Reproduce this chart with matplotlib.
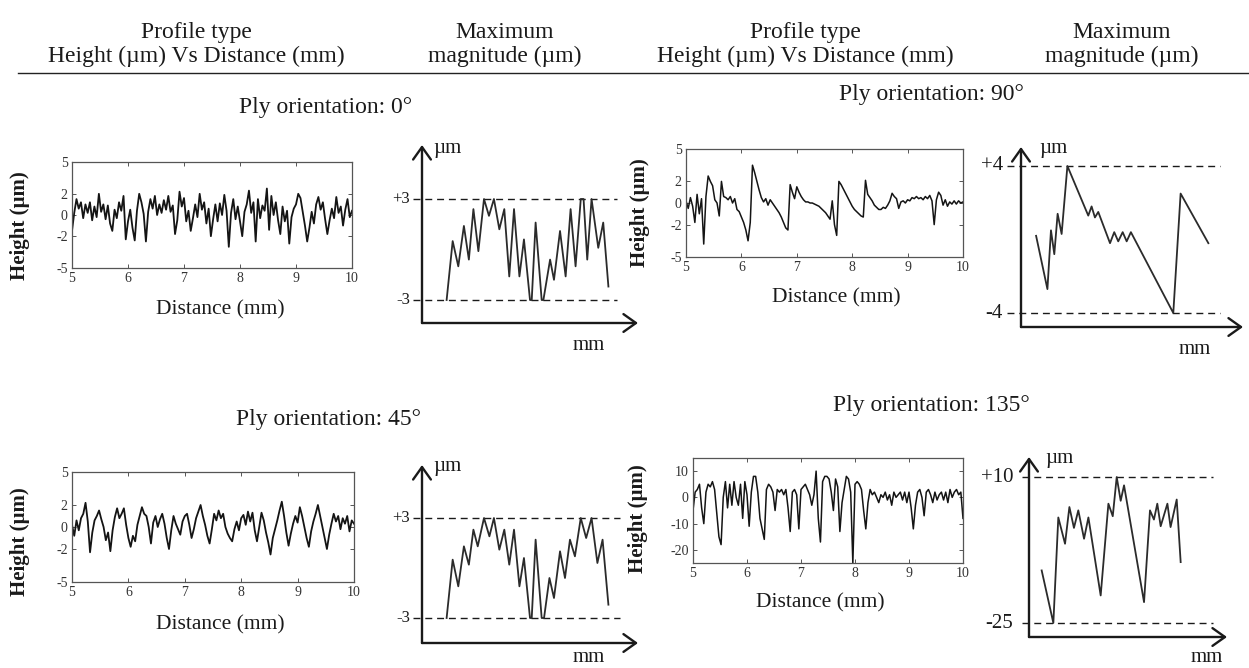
import matplotlib.pyplot as plt
import numpy as np

plt.rcParams['font.family'] = ['Liberation Serif', 'DejaVu Serif']
plt.rcParams['axes.unicode_minus'] = False

W, H = 1249, 668
INK = '#1a1a1a'

# Surface height profiles (µm), one sample every 0.04 mm from 5 to 10 mm
height_0 = [
    -1.5, 0.2, 1.5, 0.6, 1.2, -0.3, 1.0, 0.2, 1.2, -0.5, 0.8, -0.2, 2.0, 0.3, 1.0, -0.4,
    0.9, -0.8, -1.5, 0.5, -0.3, 1.2, 0.4, 1.8, -2.3, -0.6, 0.5, -1.2, -2.4, 0.4, 2.0, 1.2,
    0.1, -2.5, 0.3, 1.5, 0.6, 1.8, 0.0, 1.0, 0.2, 1.4, 0.5, 1.8, 0.3, 0.9, -1.8, -0.5,
    2.2, 0.8, 1.6, -0.6, 0.4, -1.5, -0.3, 1.0, -0.2, 2.0, 0.5, 1.2, -0.8, 0.6, -2.0, -0.4,
    1.0, -0.6, 1.1, 0.0, 1.9, 0.4, -3.0, 0.2, 1.5, -0.4, 0.8, -0.6, -2.0, 0.3, 1.0, 2.3,
    0.2, 1.2, -2.5, 1.5, -0.3, 0.9, 0.4, 2.5, -1.4, 1.8, 0.0, 1.2, -0.5, -1.8, 0.8, -0.6,
    0.4, -2.7, -0.2, 0.6, 1.0, 2.0, 1.6, 0.3, -1.0, -2.5, -1.2, 0.3, -0.8, 1.0, 1.7, 0.5,
    1.2, -0.4, -1.8, -0.5, 0.6, -0.3, 1.7, 0.2, 0.8, -1.0, 0.5, 1.5, -0.2, 0.4,
]
height_45 = [
    0.2, -0.8, 0.6, -0.3, 0.8, 1.2, 2.2, 0.5, -2.3, -0.5, 0.6, 1.0, 1.5, 0.7, 0.0, -1.2,
    -0.5, -2.2, -0.3, 0.9, 1.7, 0.8, 1.2, 1.7, 0.2, -1.0, -1.8, -0.8, -1.3, 0.2, 1.0, 1.8,
    1.2, 1.0, 0.0, -1.5, 0.4, 1.0, 0.0, 0.7, 1.2, 0.3, -1.0, -2.0, -0.3, 1.0, 0.3, -0.2,
    -0.7, 0.5, 1.0, 1.2, 0.2, -1.0, -0.2, 0.8, 1.4, 2.0, 1.0, 0.2, -0.8, -1.5, -0.2, 1.2,
    0.6, 1.5, 0.8, 1.2, 0.0, -0.6, -1.0, -1.3, -0.2, 0.5, -0.3, 0.8, 1.1, 0.2, 1.4, 0.5,
    1.3, -0.3, -1.3, 0.0, 1.3, 0.6, -0.5, -1.4, -2.5, -1.0, -0.2, 0.6, 1.5, 2.3, 1.0, -0.5,
    -1.7, -0.6, 0.3, 1.0, 0.4, 1.8, 1.0, 0.0, -1.0, -1.8, -0.4, 0.5, 1.2, 2.0, 1.0, 0.0,
    -1.0, -2.0, -0.7, 0.3, 1.2, 0.5, 1.0, -0.2, 0.8, 0.3, 1.0, -0.4, 0.6, 0.3,
]
height_90 = [
    0.2, -0.5, 0.5, -0.3, -1.8, 0.8, -1.0, 0.4, -3.8, 0.6, 2.5, 2.0, 1.6, 0.3, 0.0, -1.2,
    2.0, 0.6, 0.5, 0.3, 0.6, 0.0, 0.4, -0.6, -0.8, -1.3, -1.8, -2.5, -3.5, -1.8, 3.5, 2.8,
    2.0, 1.2, 0.5, 0.1, 0.4, -0.2, 0.3, 0.0, -0.3, -0.6, -0.9, -1.3, -1.8, -2.3, -2.5, 1.7,
    1.0, 0.4, 1.5, 1.0, 0.6, 0.3, 0.1, 0.1, 0.0, 0.0, -0.1, -0.2, -0.3, -0.5, -0.7, -0.9,
    -1.2, -1.5, 0.2, -2.0, -3.0, 2.0, 1.7, 1.3, 0.9, 0.5, 0.1, -0.3, -0.6, -0.8, -1.0, -1.2,
    -1.3, 2.1, 0.8, 0.5, 0.2, -0.2, -0.4, -0.6, -0.6, -0.4, -0.5, -0.2, 0.2, 0.9, 0.6, 0.4,
    -0.5, 0.1, 0.2, 0.0, 0.3, 0.2, 0.5, 0.4, 0.6, 0.4, 0.5, 0.3, 0.6, 0.4, 0.7, 0.2,
    -2.0, 0.3, 1.0, 0.7, -0.2, 0.3, -0.3, 0.1, -0.1, 0.2, -0.1, 0.2, 0.0, 0.1,
]
height_135 = [
    -5, 2, 3, 5, -4, -10, 2, 5, 4, 6, 3, -6, -15, -18, 0, 6,
    -4, 5, -3, 6, 0, -3, 5, -8, 6, 1, -11, 2, 8, 8, 2, -8,
    -12, -16, 3, 5, 4, 2, -5, 3, 2, 3, 1, 3, -4, -13, 2, 3,
    1, -12, 3, 4, 5, 3, 1, -3, 1, 10, -8, -17, 6, 8, 8, 7,
    2, -5, 7, 4, -13, -2, 3, 8, 7, 2, -25, 5, 6, 5, 3, -5,
    -12, -2, 3, 1, 2, 0, -2, 1, 0, 2, -1, 1, -3, 2, 0, 1,
    2, -1, 2, -2, 2, -4, -12, -3, 2, 3, 0, -7, 2, 3, 1, -2,
    2, -1, 1, 2, -1, 2, -2, 3, 0, 2, 3, 1, 2, -8,
]

# Maximum-magnitude envelopes: position along trace (arb. units) and height (µm)
env_pos_0 = [11.4, 14.2, 16.8, 19.4, 21.7, 23.8, 26.1, 28.7, 31.0, 33.3, 35.8, 38.1,
             40.4, 42.6, 45.1, 47.2, 50.0, 50.8, 52.6, 55.4, 56.2, 59.3, 61.1, 63.9,
             66.5, 68.8, 71.1, 73.5, 74.8, 76.5, 78.5, 81.6, 83.9, 86.3]
env_val_0 = [-3.0, 0.5, -1.0, 1.4, -0.6, 2.4, -0.1, 3.0, 2.0, 3.0, 1.2, 2.4,
             -1.6, 2.4, -1.6, 0.6, -3.0, -3.0, 1.6, -3.0, -3.0, -0.6, -1.8, 1.1,
             -1.6, 2.4, -1.0, 3.0, 3.0, -0.6, 3.0, 0.1, 1.6, -2.2]
env_pos_45 = [11.4, 14.2, 16.8, 19.4, 21.7, 23.8, 25.8, 28.7, 31.2, 33.3, 35.8, 38.1,
              40.4, 42.6, 45.1, 47.2, 50.0, 50.8, 52.6, 55.4, 56.5, 59.0, 61.1, 63.9,
              66.2, 68.5, 70.8, 73.5, 76.0, 78.5, 81.2, 83.6, 86.3]
env_val_45 = [-3.0, 0.5, -1.1, 1.3, 0.2, 2.3, 1.3, 3.0, 1.9, 3.0, 1.1, 2.3,
              0.2, 2.3, -1.1, 0.6, -3.0, -3.0, 1.7, -3.0, -3.0, -0.6, -1.8, 1.0,
              -0.6, 1.7, 0.7, 3.0, 1.8, 3.0, 0.3, 1.7, -2.2]
env_pos_90 = [6.8, 11.9, 13.5, 15.0, 16.5, 18.3, 20.9, 30.3, 31.8, 33.3, 34.8, 40.1,
              42.0, 43.8, 45.8, 47.6, 49.5, 68.6, 71.9, 84.4]
env_val_90 = [0.2, -2.7, 0.5, -0.8, 1.4, 0.3, 4.0, 1.3, 1.8, 1.2, 1.5, -0.2,
              0.4, -0.1, 0.4, -0.1, 0.4, -4.0, 2.5, -0.2]
env_pos_135 = [6.4, 12.3, 14.8, 18.2, 20.4, 22.7, 24.9, 27.8, 30.0, 36.2, 40.1, 42.3,
               44.3, 46.3, 48.0, 58.1, 61.1, 63.1, 64.8, 66.5, 69.9, 71.5, 74.6, 76.6]
env_val_135 = [-12.4, -25.0, 0.3, -6.0, 2.8, -2.2, 2.0, -4.8, 0.3, -18.4, 3.6, 0.6,
               10.0, 4.3, 8.0, -20.0, 2.0, -0.2, 3.6, -1.8, 3.6, -2.0, 4.6, -10.4]

fig = plt.figure(figsize=(W / 100, H / 100), dpi=100)


def px_axes(left, top, right, bottom):
    return fig.add_axes([left / W, 1 - bottom / H, (right - left) / W, (bottom - top) / H])


def ftext(x, y, s, **kw):
    kw.setdefault('color', INK)
    fig.text(x / W, 1 - y / H, s, **kw)


def profile_panel(box, heights, ylim, yticks, xlab_xy, ylab_xy, lw=1.3):
    ax = px_axes(*box)
    dist = np.linspace(5, 10, len(heights))
    ax.plot(dist, heights, color='#141414', lw=lw)
    ax.set_xlim(5, 10)
    ax.set_ylim(*ylim)
    ax.set_xticks(range(5, 11))
    ax.set_yticks(yticks)
    ax.tick_params(direction='in', top=True, right=True, length=3, width=0.7,
                   labelsize=10, labelcolor='#333', pad=3, color='#555')
    for sp in ax.spines.values():
        sp.set_color('#555')
        sp.set_linewidth(0.9)
    ftext(*xlab_xy, 'Distance (mm)', ha='center', va='center', fontsize=15.5)
    ftext(*ylab_xy, 'Height (µm)', ha='center', va='center', fontsize=15,
          fontweight='bold', rotation=90)


def magnitude_panel(box, levels, level_px, pos, vals, dash_x, label_x, level_fs,
                    unit_xy, mm_xy):
    left, top, right, bottom = box
    hi, lo = levels
    hi_px, lo_px = level_px
    scale = (lo_px - hi_px) / (hi - lo)
    ax = px_axes(left, top, right, bottom)
    ax.set_xlim(0, 100)
    ax.set_ylim(lo - (bottom - lo_px) / scale, hi + (hi_px - top) / scale)
    ax.axis('off')

    def to_x(px):
        return (px - left) / (right - left) * 100

    for val in levels:
        ax.plot([to_x(dash_x[0]), to_x(dash_x[1])], [val, val], color=INK, lw=1.0,
                dashes=(5, 3.5), clip_on=False)
    ax.plot(pos, vals, color='#2b2b2b', lw=1.3, clip_on=False)

    arrow = dict(arrowstyle='->,head_length=0.45,head_width=0.32', lw=1.7, color=INK,
                 shrinkA=0, shrinkB=0, mutation_scale=20)
    ax.annotate('', xy=(0, 1), xytext=(0, 0), xycoords='axes fraction',
                arrowprops=arrow, annotation_clip=False)
    ax.annotate('', xy=(1, 0), xytext=(0, 0), xycoords='axes fraction',
                arrowprops=arrow, annotation_clip=False)

    for val, py in zip(levels, level_px):
        ftext(label_x, py, f'{val:+d}', ha='right', va='center', fontsize=level_fs)
    ftext(*unit_xy, 'µm', ha='center', va='center', fontsize=15)
    ftext(*mm_xy, 'mm', ha='center', va='center', fontsize=15)


# Column headers and rule
for cx in (196, 805):
    ftext(cx, 38, 'Profile type', ha='center', va='baseline', fontsize=17)
    ftext(cx, 62, 'Height (µm) Vs Distance (mm)', ha='center', va='baseline', fontsize=17)
for cx in (505, 1122):
    ftext(cx, 38, 'Maximum', ha='center', va='baseline', fontsize=17)
    ftext(cx, 62, 'magnitude (µm)', ha='center', va='baseline', fontsize=17)
fig.add_artist(plt.Line2D([18 / W, 1], [1 - 73 / H, 1 - 73 / H], color='#222', lw=1.0))

# Ply orientation titles
ftext(326, 113, 'Ply orientation: 0°', ha='center', va='baseline', fontsize=17)
ftext(931, 100, 'Ply orientation: 90°', ha='center', va='baseline', fontsize=17)
ftext(328, 425, 'Ply orientation: 45°', ha='center', va='baseline', fontsize=17)
ftext(931, 411, 'Ply orientation: 135°', ha='center', va='baseline', fontsize=17)

# Height profiles
profile_panel((72, 162, 352, 268), height_0, (-5, 5), [-5, -2, 0, 2, 5], (220, 310), (20, 226))
profile_panel((72, 472, 354, 582), height_45, (-5, 5), [-5, -2, 0, 2, 5], (220, 625), (20, 542))
profile_panel((686, 149, 963, 257), height_90, (-5, 5), [-5, -2, 0, 2, 5], (836, 298), (640, 213),
              lw=1.1)
profile_panel((693, 458, 963, 563), height_135, (-25, 15), [-20, -10, 0, 10], (820, 603), (638, 519),
              lw=1.1)

# Maximum-magnitude sketches
magnitude_panel((422, 145, 638, 323), (3, -3), (199, 300), env_pos_0, env_val_0,
                (413, 617), 410, 12, (447, 148), (589, 346))
magnitude_panel((422, 465, 638, 643), (3, -3), (518, 618), env_pos_45, env_val_45,
                (413, 620), 410, 12, (447, 466), (589, 658))
magnitude_panel((1021, 147, 1243, 327), (4, -4), (166, 313), env_pos_90, env_val_90,
                (1007, 1220), 1003, 15, (1053, 149), (1195, 350))
magnitude_panel((1029, 457, 1227, 637), (10, -25), (477, 623), env_pos_135, env_val_135,
                (1022, 1213), 1013, 15, (1059, 459), (1207, 658))

fig.savefig('out.png', dpi=100)
